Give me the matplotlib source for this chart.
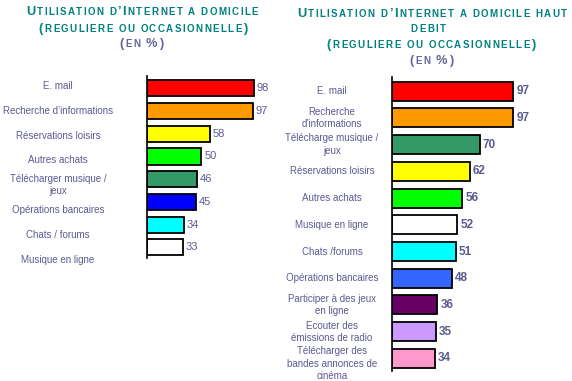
import matplotlib
matplotlib.use("Agg")
import matplotlib.pyplot as plt
import matplotlib.transforms as mtransforms
from matplotlib.offsetbox import TextArea, HPacker, AnnotationBbox

plt.rcParams['font.family'] = ['Liberation Sans', 'DejaVu Sans']

# ---- data
left_labels = ["E. mail", "Recherche d’informations", "Réservations loisirs",
               "Autres achats", "Télécharger musique /\njeux", "Opérations bancaires",
               "Chats / forums", "Musique en ligne"]
left_values = [98, 97, 58, 50, 46, 45, 34, 33]
left_colors = ["#FF0000", "#FF9900", "#FFFF00", "#00FF00", "#339966",
               "#0000FF", "#00FFFF", "#FFFFFF"]

right_labels = ["E. mail", "Recherche\nd’informations", "Télécharge musique /\njeux",
                "Réservations loisirs", "Autres achats", "Musique en ligne",
                "Chats /forums", "Opérations bancaires", "Participer à des jeux\nen ligne",
                "Ecouter des\némissions de radio",
                "Télécharger des\nbandes annonces de\ncinéma"]
right_values = [97, 97, 70, 62, 56, 52, 51, 48, 36, 35, 34]
right_colors = ["#FF0000", "#FF9900", "#339966", "#FFFF00", "#00FF00", "#FFFFFF",
                "#00FFFF", "#3366FF", "#660066", "#CC99FF", "#FF99CC"]

left_title = ["Utilisation d’Internet a domicile", "(reguliere ou occasionnelle)"]
right_title = ["Utilisation d’Internet a domicile haut", "debit",
               "(reguliere ou occasionnelle)"]
unit_text = "(en %)"

W, H = 572, 381
txt_col = "#5a5a92"
title_col = "#008080"
unit_col = "#666699"

fig = plt.figure(figsize=(W / 100, H / 100), dpi=100)


def px(x0, y0, w, h):
    return [x0 / W, 1 - (y0 + h) / H, w / W, h / H]


def smallcaps(text, x, y, color, big=9.3, small=7.0, track=1.05):
    # fake small caps with wide tracking: capitals / symbols big, lower-case small
    boxes = []
    for ch in text:
        size = small if (ch.islower() or ch == " ") else big
        boxes.append(TextArea(ch.upper(), textprops=dict(size=size, weight="bold",
                                                         color=color)))
    pack = HPacker(children=boxes, align="baseline", pad=0, sep=track)
    ab = AnnotationBbox(pack, (x / W, 1 - y / H), xycoords="figure fraction",
                        frameon=False, box_alignment=(0.5, 0.5), pad=0)
    fig.add_artist(ab)


def draw(ax, labels, values, colors, label_x, bold, step=1.0, shift=0.0):
    n = len(values)
    ypos = list(range(n))
    ax.barh(ypos, values, height=0.71, color=colors, edgecolor="black", linewidth=1.3)
    for y, v in zip(ypos, values):
        ax.text(v + 2.5, y, str(v), va="center", ha="left", color=txt_col,
                fontsize=8.5 if bold else 8, fontweight="bold" if bold else "normal")
    tr = mtransforms.blended_transform_factory(fig.transFigure, ax.transData)
    for i, lab in enumerate(labels):
        # long three-line labels sit a little lower in the original
        nudge = 0.2 if lab.count("\n") >= 2 else 0.0
        ax.text(label_x / W, i * step + shift + nudge, lab, transform=tr, ha="center",
                va="center", color=txt_col, fontsize=7, linespacing=1.3)
    ax.set_xlim(0, 100)
    ax.set_ylim(n - 1 + 0.47, -0.54)
    for s in ["top", "right", "bottom"]:
        ax.spines[s].set_visible(False)
    ax.spines["left"].set_linewidth(1.2)
    ax.set_xticks([])
    ax.set_yticks([])
    ax.patch.set_alpha(0)


ax1 = fig.add_axes(px(147, 76, 109, 182))
draw(ax1, left_labels, left_values, left_colors, 58, False, step=1.095, shift=-0.11)

ax2 = fig.add_axes(px(392.3, 76.7, 124.7, 294.3))
draw(ax2, right_labels, right_values, right_colors, 332, True)

smallcaps(left_title[0], 142, 12, title_col)
smallcaps(left_title[1], 143, 29, title_col)
smallcaps(unit_text, 141, 44, unit_col)

smallcaps(right_title[0], 432, 14, title_col)
smallcaps(right_title[1], 428, 29, title_col)
smallcaps(right_title[2], 431, 45, title_col)
smallcaps(unit_text, 431, 61, unit_col)

fig.savefig("out.png", dpi=100)
